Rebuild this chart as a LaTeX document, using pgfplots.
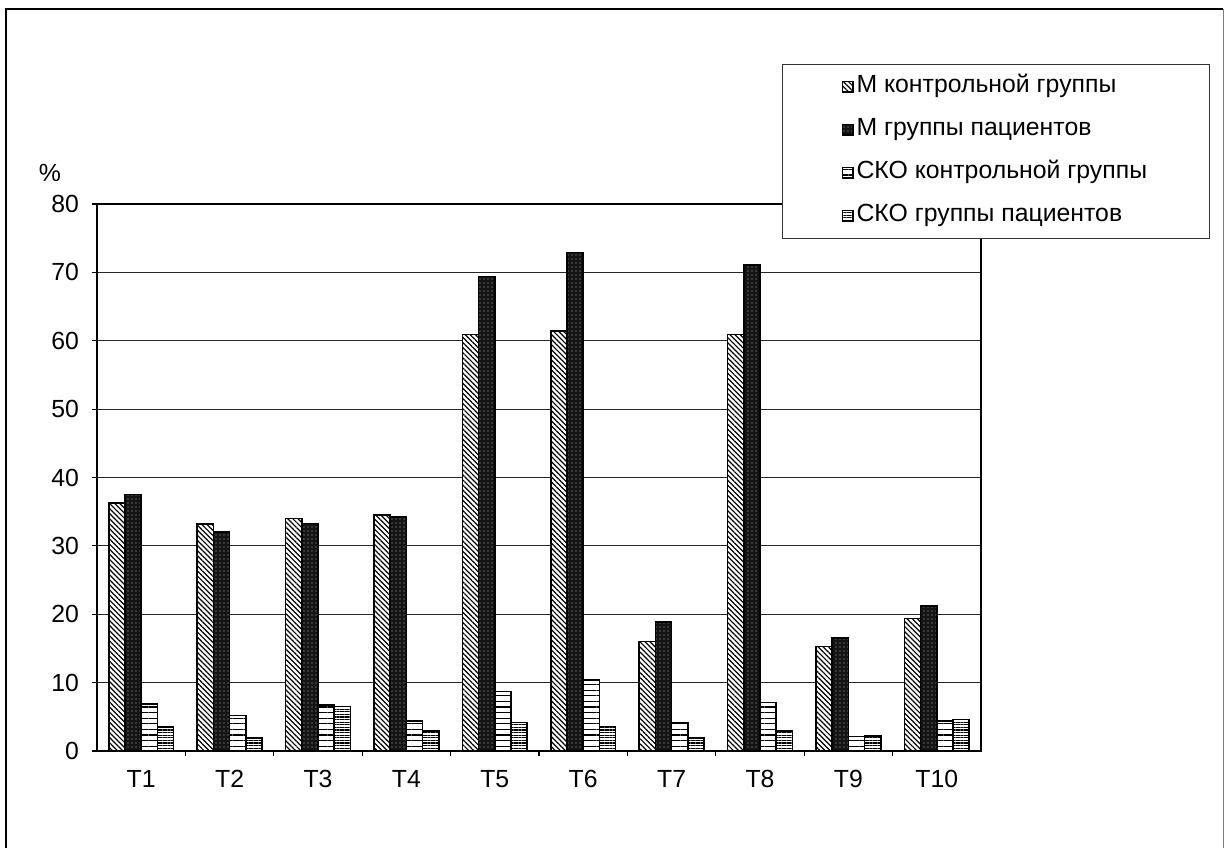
\documentclass[border=0pt]{standalone}
\usepackage{fontspec}
\setmainfont{Liberation Sans}
\usepackage{pgfplots}
\usepackage{pgfplotstable}
\pgfplotsset{compat=1.18}
\usetikzlibrary{patterns,patterns.meta}

\pgfplotstableread{
x  ctrl pat  sctrl spat
1  36.3 37.5 6.9  3.5
2  33.2 32.0 5.2  1.9
3  34.0 33.3 6.7  6.5
4  34.5 34.2 4.4  2.9
5  60.9 69.4 8.7  4.2
6  61.4 72.9 10.4 3.6
7  16.0 18.9 4.1  1.9
8  60.9 71.1 7.1  2.9
9  15.3 16.5 2.1  2.2
10 19.4 21.2 4.4  4.6
}\data

\newcommand{\lbl}{\fontsize{12.4}{14}\selectfont}

\begin{document}
\begin{tikzpicture}
\begin{axis}[
  at={(48.5pt,48pt)}, anchor=south west,
  scale only axis, width=442pt, height=273.5pt,
  ybar=0pt, bar width=8.1pt,
  xmin=0.5, xmax=10.5, ymin=0, ymax=80,
  xtick={1.5,2.5,...,9.5}, xticklabels={},
  extra x ticks={1,2,...,10},
  extra x tick labels={T1,T2,T3,T4,T5,T6,T7,T8,T9,T10},
  extra x tick style={major tick length=0pt},
  ytick={0,10,...,80},
  tick pos=left,
  tick align=outside, major tick length=2.5pt,
  tick style={black, line width=0.6pt},
  ymajorgrids, grid style={black!85, line width=0.45pt},
  axis line style={line width=0.8pt},
  ticklabel style={font=\lbl},
  /pgf/number format/assume math mode=true,
  yticklabel style={xshift=-3pt},
  xticklabel style={yshift=-6pt},
  clip=false,
  every axis plot/.append style={draw=black, line width=0.75pt},
  legend cell align=left,
  legend image code/.code={\draw[#1] (0pt,-2.6pt) rectangle (5.2pt,2.6pt);},
  legend style={at={(0.7749,1.256)}, anchor=north west,
    draw=black!80, line width=0.6pt, fill=white, font=\lbl,
    inner xsep=29.5pt, inner ysep=5.5pt, row sep=10.2pt, column sep=1.5pt,
    nodes={inner sep=0pt, text height=8.6pt, text depth=2.7pt}},
]
\addplot[fill=white, postaction={pattern={Lines[angle=-45,distance=1.8pt,line width=0.6pt]}}]
  table[x=x, y=ctrl] {\data};
\addlegendentry{\makebox[147pt][l]{М контрольной группы}}
\addplot[fill=black!92, postaction={pattern={Dots[distance=2pt,radius=0.35pt]}, pattern color=white!70!black}]
  table[x=x, y=pat] {\data};
\addlegendentry{\makebox[147pt][l]{М группы пациентов}}
\addplot[fill=white, postaction={pattern={Lines[angle=0,distance=2.8pt,line width=0.55pt]}}]
  table[x=x, y=sctrl] {\data};
\addlegendentry{\makebox[147pt][l]{СКО контрольной группы}}
\addplot[fill=white, postaction={pattern={Lines[angle=0,distance=1.3pt,line width=0.6pt]}}]
  table[x=x, y=spat] {\data};
\addlegendentry{\makebox[147pt][l]{СКО группы пациентов}}
\node[font=\lbl] at (rel axis cs:-0.0532,1.0567) {\%};
\end{axis}
\draw[line width=1pt] (3pt,-5pt) -- (3pt,418.8pt) -- (611.5pt,418.8pt);
\draw[black!50, line width=0.5pt] (611.5pt,418.8pt) -- (611.5pt,-5pt);
\pgfresetboundingbox
\useasboundingbox (0,0) rectangle (613.5pt,423.5pt);
\end{tikzpicture}
\end{document}
